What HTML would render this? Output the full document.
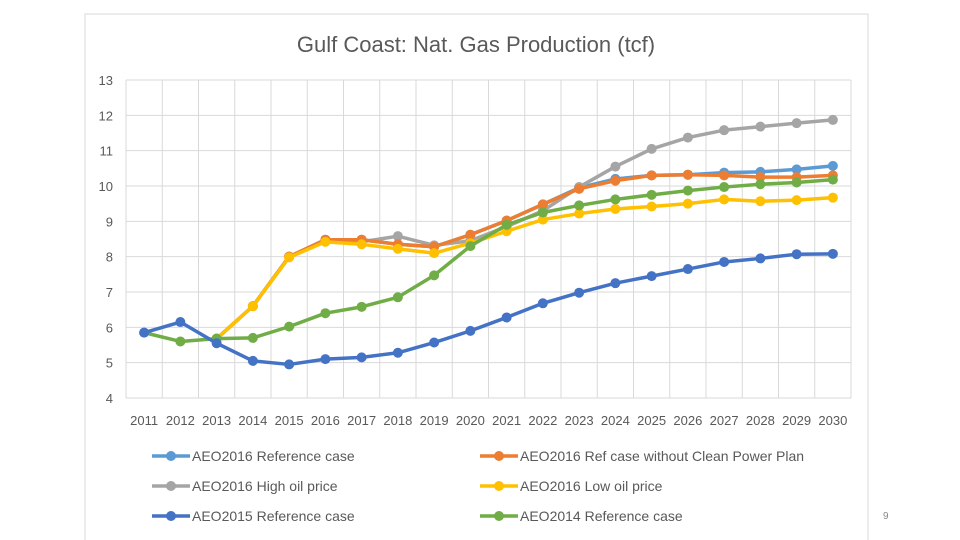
<!DOCTYPE html>
<html><head><meta charset="utf-8"><style>
body{margin:0;width:960px;height:540px;background:#fff;font-family:"Liberation Sans",sans-serif;overflow:hidden}
svg{position:absolute;left:0;top:0}
</style></head><body>
<svg width="960" height="540">
<rect x="85" y="14" width="783" height="530" fill="#fff" stroke="#d9d9d9"/>
<text x="476" y="52" text-anchor="middle" font-size="22" fill="#595959">Gulf Coast: Nat. Gas Production (tcf)</text>
<g id="grid"></g><g id="axes"></g><g id="series"></g><g id="legend"></g>
<text x="883" y="519" font-size="10" fill="#888">9</text>
</svg>
<script>
const years=[2011,2012,2013,2014,2015,2016,2017,2018,2019,2020,2021,2022,2023,2024,2025,2026,2027,2028,2029,2030];
const yTicks=[4,5,6,7,8,9,10,11,12,13];
const N=null;
const ref2016=[N,N,5.68,6.6,8.0,8.48,8.48,8.35,8.28,8.62,9.02,9.48,9.95,10.2,10.3,10.32,10.38,10.4,10.47,10.57];
const noCPP=[N,N,5.68,6.6,8.0,8.48,8.48,8.35,8.28,8.62,9.02,9.48,9.92,10.15,10.3,10.32,10.3,10.25,10.25,10.3];
const highOil=[N,N,5.68,6.6,8.0,8.45,8.42,8.58,8.32,8.45,8.85,9.3,9.97,10.55,11.05,11.37,11.58,11.68,11.78,11.87];
const lowOil=[N,N,5.68,6.6,7.98,8.42,8.35,8.22,8.1,8.38,8.72,9.05,9.22,9.35,9.42,9.5,9.62,9.57,9.6,9.67];
const ref2015=[5.85,6.15,5.55,5.05,4.95,5.1,5.15,5.28,5.57,5.9,6.28,6.68,6.98,7.25,7.45,7.65,7.85,7.95,8.07,8.08];
const ref2014=[5.85,5.6,5.68,5.7,6.02,6.4,6.58,6.85,7.47,8.3,8.9,9.25,9.45,9.62,9.75,9.87,9.97,10.05,10.1,10.18];
const names=["AEO2016 Reference case","AEO2016 Ref case without Clean Power Plan","AEO2016 High oil price","AEO2016 Low oil price","AEO2015 Reference case","AEO2014 Reference case"];
const NS="http://www.w3.org/2000/svg";
const L=126,R=851,T=80,B=398,ymin=4,ymax=13;
const cw=(R-L)/years.length;
const xs=i=>L+cw*(i+0.5);
const ys=v=>B-(v-ymin)/(ymax-ymin)*(B-T);
function mk(tag,at,parent){const e=document.createElementNS(NS,tag);for(const k in at)e.setAttribute(k,at[k]);parent.appendChild(e);return e;}
const grid=document.getElementById('grid'),axes=document.getElementById('axes'),ser=document.getElementById('series'),leg=document.getElementById('legend');
yTicks.forEach(t=>{const l=mk('line',{x1:L,x2:R,y1:ys(t),y2:ys(t),stroke:'#d9d9d9'},grid);


const tx=mk('text',{x:L-13,y:ys(t)+5,'text-anchor':'end','font-size':13,fill:'#595959'},axes);tx.textContent=t;

});
for(let i=0;i<=years.length;i++){const l=mk('line',{x1:L+cw*i,x2:L+cw*i,y1:T,y2:B,stroke:'#d9d9d9'},grid);

}
years.forEach((y,i)=>{const tx=mk('text',{x:xs(i),y:B+27,'text-anchor':'middle','font-size':13,fill:'#595959'},axes);tx.textContent=y;

});
const data=[ref2016,noCPP,highOil,lowOil,ref2015,ref2014];
const colors=['#5b9bd5','#ed7d31','#a5a5a5','#ffc000','#4472c4','#70ad47'];
const order=[0,2,1,3,5,4];
order.forEach(k=>{const g=mk('g',{},ser);


let pts=[];data[k].forEach((v,i)=>{if(v!=null)pts.push(xs(i)+','+ys(v));});
mk('polyline',{points:pts.join(' '),fill:'none',stroke:colors[k],'stroke-width':3.5,'stroke-linejoin':'round'},g);
data[k].forEach((v,i)=>{if(v==null)return;const c=mk('circle',{cx:xs(i),cy:ys(v),r:5,fill:colors[k]},g);

});});
const lpos=[[152,456],[480,456],[152,486],[480,486],[152,516],[480,516]];
names.forEach((n,k)=>{const g=mk('g',{},leg);


const [x,y]=lpos[k];
mk('line',{x1:x,x2:x+38,y1:y,y2:y,stroke:colors[k],'stroke-width':3.5},g);
mk('circle',{cx:x+19,cy:y,r:5,fill:colors[k]},g);
const t=mk('text',{x:x+40,y:y+5,'font-size':14,fill:'#595959'},g);t.textContent=n;});
</script>
</body></html>
